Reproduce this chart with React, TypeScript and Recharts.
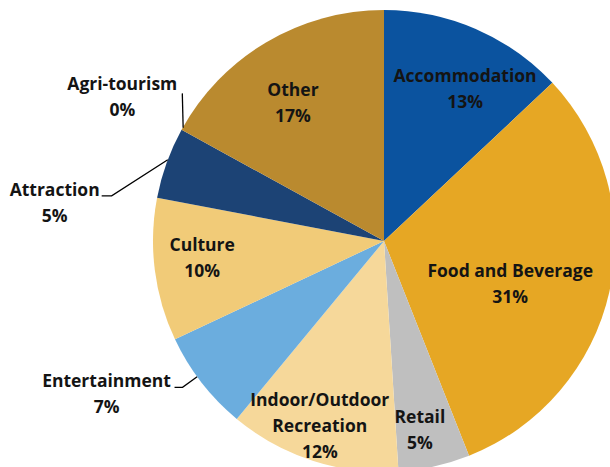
import { Cell, Pie, PieChart } from "recharts";

const CATEGORIES = [
  "Accommodation",
  "Food and Beverage",
  "Retail",
  "Indoor/Outdoor\nRecreation",
  "Entertainment",
  "Culture",
  "Attraction",
  "Agri-tourism",
  "Other",
];
const SHARES = [13, 31, 5, 12, 7, 10, 5, 0, 17];
const COLORS = [
  "#0b539f",
  "#e6a724",
  "#bfbfbf",
  "#f6d89a",
  "#6badde",
  "#f1cb78",
  "#1c4375",
  "#8eb4e3",
  "#ba8a2f",
];

const data = CATEGORIES.map((name, i) => ({ name, value: SHARES[i] }));

const FONT = "'Open Sans', sans-serif";
const FONT_SIZE = 17.5;
const TEXT = "#141414";
const LINE_H = 26;

// inside labels: radius fraction + angle nudge (deg, clockwise)
const INSIDE: Record<string, { rf: number; da: number }> = {
  Accommodation: { rf: 0.75, da: 4.5 },
  "Food and Beverage": { rf: 0.576, da: 5.8 },
  Retail: { rf: 0.83, da: 1.8 },
  "Indoor/Outdoor\nRecreation": { rf: 0.845, da: 1.2 },
  Culture: { rf: 0.79, da: 2.2 },
  Other: { rf: 0.72, da: -2.6 },
};

// outside labels with leader lines (angles clockwise from top)
const OUTSIDE: Record<
  string,
  { a0: number; r0: number; a1: number; r1: number; tail: number; tx: number; ty: number }
> = {
  Entertainment: { a0: 234, r0: 1.0, a1: 234, r1: 1.078, tail: 8, tx: -76, ty: 0 },
  Attraction: { a0: 290.6, r0: 1.0, a1: 279.4, r1: 1.195, tail: 10, tx: -57, ty: 0 },
  "Agri-tourism": { a0: 299.4, r0: 0.998, a1: 306.2, r1: 1.082, tail: 0, tx: -60, ty: -3 },
};

const RAD = Math.PI / 180;
const polar = (cx: number, cy: number, r: number, a: number) => ({
  x: cx + r * Math.sin(a * RAD),
  y: cy - r * Math.cos(a * RAD),
});

function renderLabel(props: any) {
  const { cx, cy, midAngle, outerRadius, name, value } = props;
  const mid = 90 - midAngle; // clockwise from top
  const lines = [...String(name).split("\n"), `${value}%`];
  const ins = INSIDE[name];
  if (ins) {
    const p = polar(cx, cy, outerRadius * ins.rf, mid + ins.da);
    const top = p.y - ((lines.length - 1) * LINE_H) / 2;
    return (
      <text
        x={p.x}
        y={top}
        textAnchor="middle"
        dominantBaseline="central"
        fill={TEXT}
        fontFamily={FONT}
        fontWeight={700}
        fontSize={FONT_SIZE}
      >
        {lines.map((l, i) => (
          <tspan key={i} x={p.x} y={top + i * LINE_H}>
            {l}
          </tspan>
        ))}
      </text>
    );
  }
  const o = OUTSIDE[name];
  if (!o) return null;
  const s = polar(cx, cy, outerRadius * o.r0, o.a0);
  const e = polar(cx, cy, outerRadius * o.r1, o.a1);
  const tx = e.x + o.tx;
  const base = e.y + o.ty;
  return (
    <g>
      <polyline
        points={`${s.x},${s.y} ${e.x},${e.y} ${e.x - o.tail},${e.y}`}
        fill="none"
        stroke="#000"
        strokeWidth={1.3}
      />
      <text textAnchor="middle" fill={TEXT} fontFamily={FONT} fontWeight={700} fontSize={FONT_SIZE}>
        {lines.map((l, i) => (
          <tspan key={i} x={tx} y={base + i * LINE_H}>
            {l}
          </tspan>
        ))}
      </text>
    </g>
  );
}

export default function App() {
  return (
    <div style={{ position: "absolute", left: 0, top: 0, width: 610, height: 467, background: "#fff" }}>
      <PieChart width={610} height={467} margin={{ top: 0, right: 0, bottom: 0, left: 0 }}>
        <Pie
          data={data}
          dataKey="value"
          nameKey="name"
          cx={384}
          cy={241}
          outerRadius={231}
          startAngle={90}
          endAngle={-270}
          stroke="none"
          label={renderLabel}
          labelLine={false}
          isAnimationActive={false}
        >
          {data.map((_, i) => (
            <Cell key={i} fill={COLORS[i]} />
          ))}
        </Pie>
      </PieChart>
    </div>
  );
}
